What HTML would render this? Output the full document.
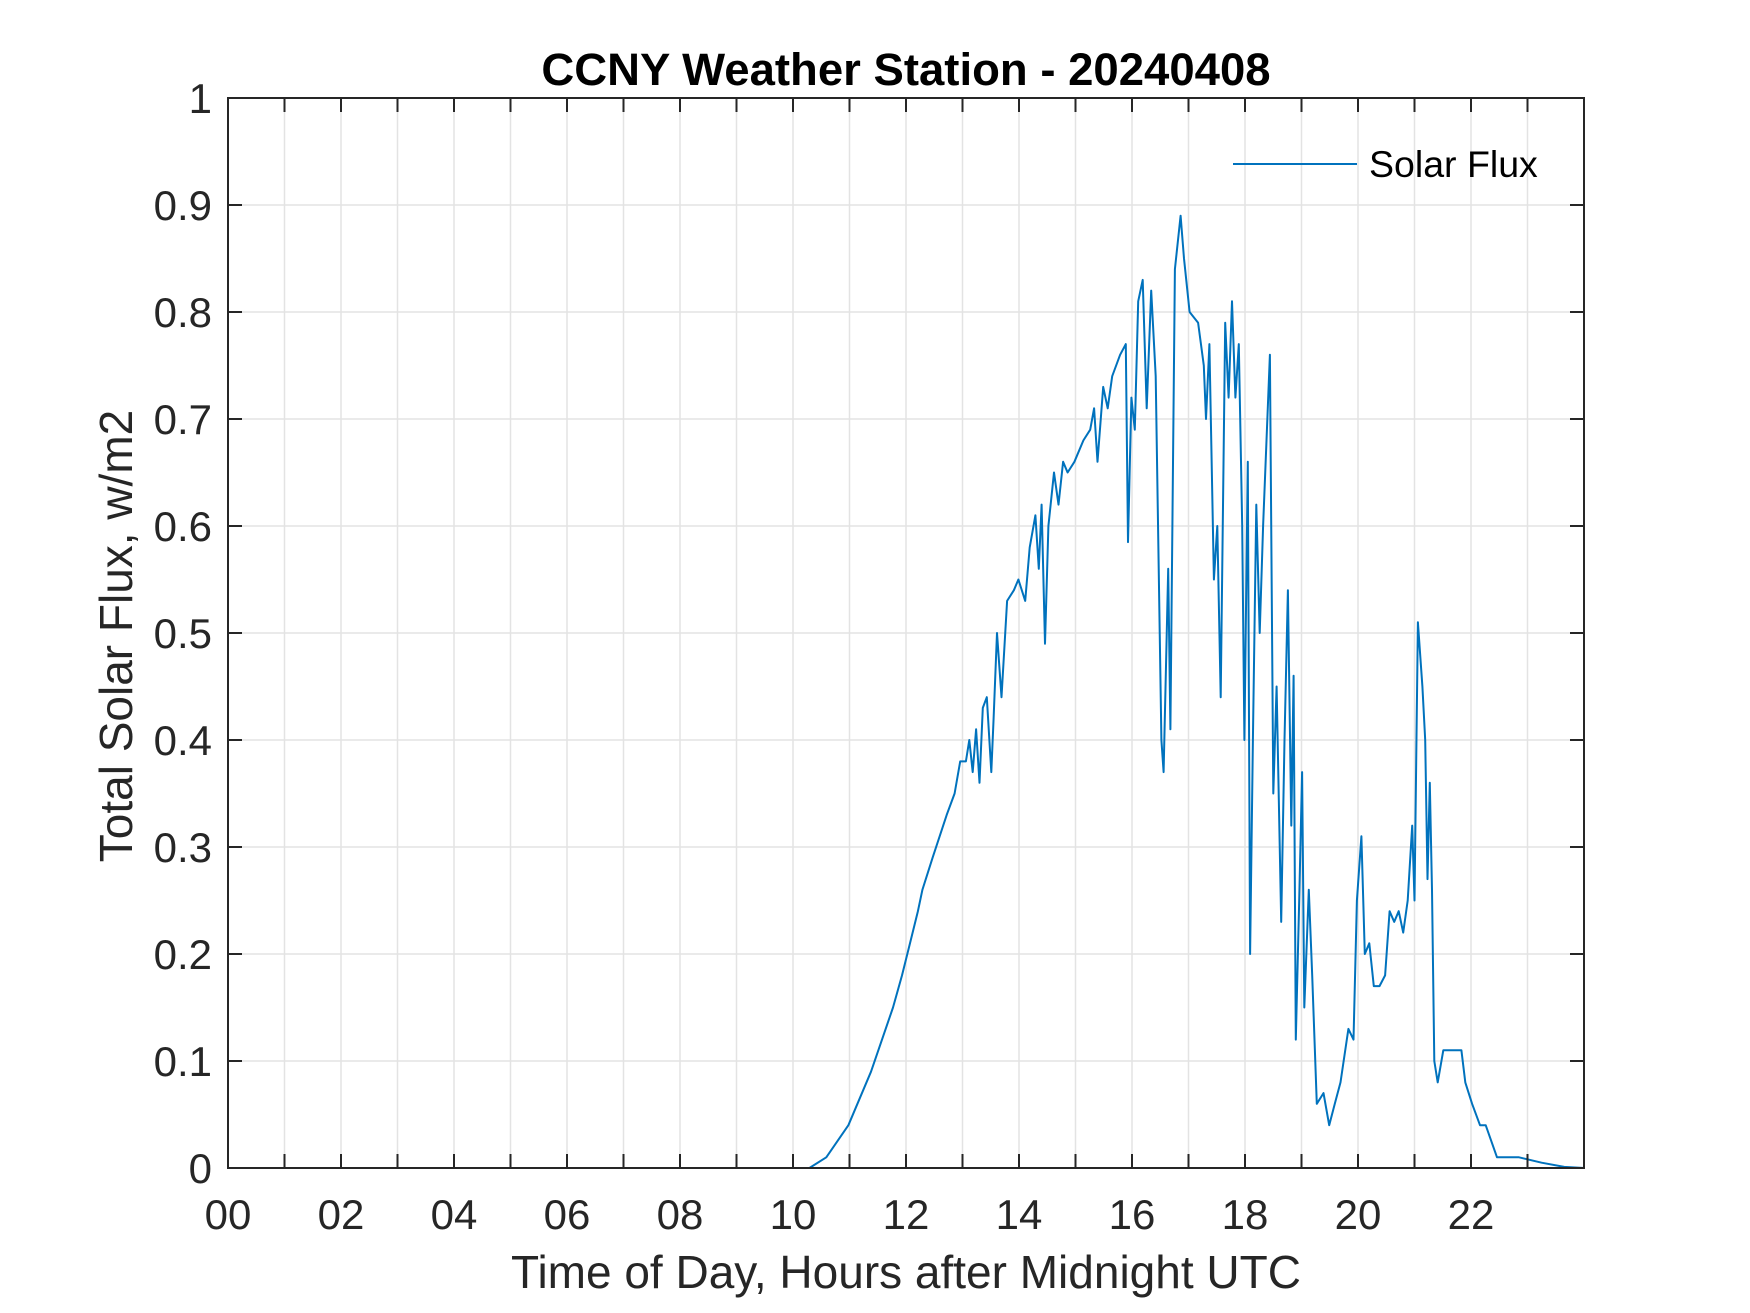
<!DOCTYPE html>
<html><head><meta charset="utf-8"><style>
html,body{margin:0;padding:0;background:#fff;}
svg{display:block;font-family:"Liberation Sans",Arial,sans-serif;}
</style></head><body>
<svg id="chart" width="1750" height="1313" viewBox="0 0 1750 1313">
<rect width="1750" height="1313" fill="#fff"/>
<g id="grid"></g>
<g id="series"></g>
<rect x="228" y="98" width="1356" height="1070" fill="none" stroke="#262626" stroke-width="2"/>
<g id="ticks"></g>
<text x="906" y="85" text-anchor="middle" font-size="45.5" font-weight="bold" fill="#000">CCNY Weather Station - 20240408</text>
<text x="906" y="1288" text-anchor="middle" font-size="46" fill="#262626">Time of Day, Hours after Midnight UTC</text>
<text transform="translate(132,636) rotate(-90)" text-anchor="middle" font-size="46" fill="#262626">Total Solar Flux, w/m2</text>
<g>
<line x1="1233" y1="164" x2="1357" y2="164" stroke="#0072BD" stroke-width="2"/>
<text x="1369" y="177" font-size="37.5" fill="#000">Solar Flux</text>
</g>
</svg>
<script>
const hours = [0,10.29,10.59,10.98,11.38,11.77,11.93,12.07,12.21,12.29,12.47,12.72,12.86,12.96,13.06,13.12,13.18,13.24,13.3,13.36,13.43,13.51,13.55,13.61,13.69,13.79,13.91,13.99,14.11,14.19,14.29,14.35,14.4,14.46,14.52,14.62,14.7,14.78,14.86,14.98,15.14,15.26,15.33,15.39,15.49,15.57,15.65,15.79,15.89,15.93,15.99,16.05,16.11,16.19,16.26,16.34,16.42,16.52,16.56,16.64,16.68,16.76,16.86,16.92,17.02,17.17,17.27,17.31,17.37,17.45,17.51,17.57,17.65,17.71,17.77,17.83,17.89,17.95,17.99,18.05,18.09,18.14,18.2,18.26,18.32,18.38,18.44,18.5,18.56,18.64,18.7,18.76,18.82,18.86,18.9,18.96,19.01,19.05,19.13,19.19,19.27,19.39,19.49,19.59,19.69,19.83,19.92,19.98,20.06,20.12,20.2,20.28,20.38,20.48,20.56,20.64,20.72,20.8,20.88,20.96,21.0,21.06,21.14,21.19,21.23,21.27,21.31,21.35,21.41,21.51,21.67,21.83,21.9,22.02,22.16,22.26,22.46,22.85,23.25,23.65,24];
const flux = [0,0,0.01,0.04,0.09,0.15,0.18,0.21,0.24,0.26,0.29,0.33,0.35,0.38,0.38,0.40,0.37,0.41,0.36,0.43,0.44,0.37,0.42,0.50,0.44,0.53,0.54,0.55,0.53,0.58,0.61,0.56,0.62,0.49,0.60,0.65,0.62,0.66,0.65,0.66,0.68,0.69,0.71,0.66,0.73,0.71,0.74,0.76,0.77,0.585,0.72,0.69,0.81,0.83,0.71,0.82,0.74,0.40,0.37,0.56,0.41,0.84,0.89,0.85,0.80,0.79,0.75,0.70,0.77,0.55,0.60,0.44,0.79,0.72,0.81,0.72,0.77,0.60,0.40,0.66,0.20,0.40,0.62,0.50,0.60,0.68,0.76,0.35,0.45,0.23,0.40,0.54,0.32,0.46,0.12,0.25,0.37,0.15,0.26,0.18,0.06,0.07,0.04,0.06,0.08,0.13,0.12,0.25,0.31,0.20,0.21,0.17,0.17,0.18,0.24,0.23,0.24,0.22,0.25,0.32,0.25,0.51,0.45,0.40,0.27,0.36,0.26,0.10,0.08,0.11,0.11,0.11,0.08,0.06,0.04,0.04,0.01,0.01,0.005,0.001,0];
const xTickLabels = ["00","02","04","06","08","10","12","14","16","18","20","22"];
const yTickLabels = ["0","0.1","0.2","0.3","0.4","0.5","0.6","0.7","0.8","0.9","1"];

const L=228,R=1584,T=98,B=1168,NS="http://www.w3.org/2000/svg";
const xS=h=>L+h/24*(R-L);
const yS=v=>B-v*(B-T);
function mk(tag,attrs,parent){const e=document.createElementNS(NS,tag);for(const k in attrs)e.setAttribute(k,attrs[k]);parent.appendChild(e);return e;}
const grid=document.getElementById('grid'),ticks=document.getElementById('ticks'),series=document.getElementById('series');
for(let h=1;h<24;h++){
  const x=xS(h);
  const g=mk('line',{x1:x,y1:T,x2:x,y2:B,stroke:'#e3e3e3','stroke-width':1.5},grid);
  
  
  const t1=mk('line',{x1:x,y1:B,x2:x,y2:B-14,stroke:'#262626','stroke-width':2},ticks);
  
  
  const t2=mk('line',{x1:x,y1:T,x2:x,y2:T+14,stroke:'#262626','stroke-width':2},ticks);
  
  
}
xTickLabels.forEach((lab,i)=>{
  const t=mk('text',{x:xS(i*2),y:1229,'text-anchor':'middle','font-size':42,fill:'#262626'},ticks);
  t.textContent=lab;
  
  
});
yTickLabels.forEach((lab,i)=>{
  const v=i/10,y=yS(v);
  if(i>0&&i<10){
    const g=mk('line',{x1:L,y1:y,x2:R,y2:y,stroke:'#e3e3e3','stroke-width':1.5},grid);
    
    
    const t1=mk('line',{x1:L,y1:y,x2:L+14,y2:y,stroke:'#262626','stroke-width':2},ticks);
    
    
    const t2=mk('line',{x1:R,y1:y,x2:R-14,y2:y,stroke:'#262626','stroke-width':2},ticks);
    
    
  }
  const t=mk('text',{x:212,y:y+15,'text-anchor':'end','font-size':42,fill:'#262626'},ticks);
  t.textContent=lab;
  
  
});
const d=hours.map((h,i)=>(i?'L':'M')+xS(h).toFixed(1)+','+yS(flux[i]).toFixed(1)).join('');
const p=mk('path',{d:d,fill:'none',stroke:'#0072BD','stroke-width':2,'stroke-linejoin':'round'},series);


</script>
</body></html>
